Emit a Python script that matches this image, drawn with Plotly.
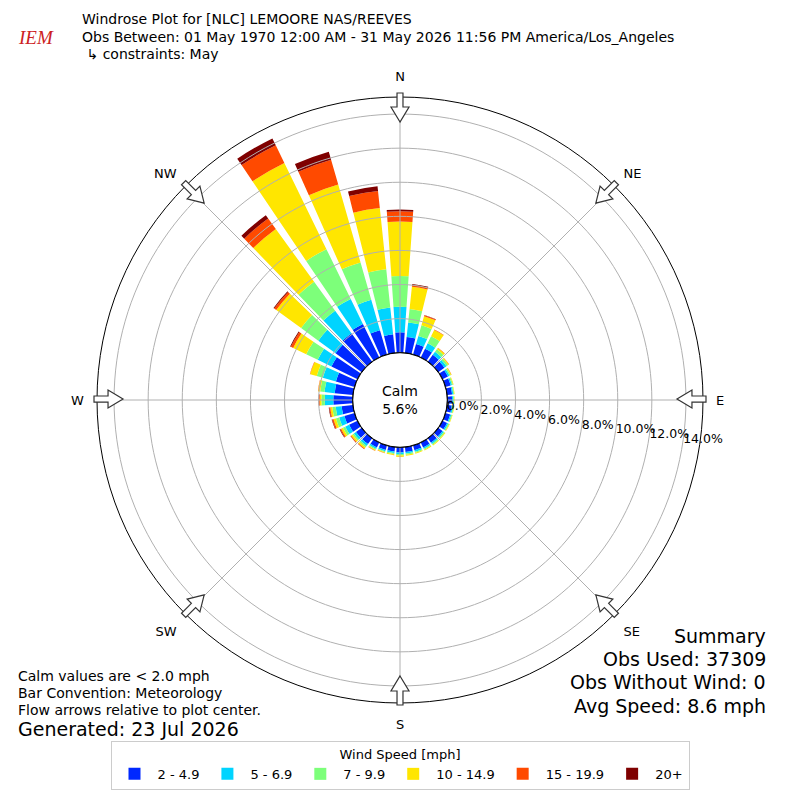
import math
import plotly.graph_objects as go

# wind direction bins (degrees, meteorological convention)
directions = list(range(0, 360, 10))

speed_bins = ["2 - 4.9", "5 - 6.9", "7 - 9.9", "10 - 14.9", "15 - 19.9", "20+"]
bin_colors = ["#0028ff", "#00d4ff", "#7dff7a", "#ffe600", "#ff4a00", "#7f0000"]

# percent frequency per direction for each speed bin
spd_2_5 = [1.20, 0.95, 0.64, 0.58, 0.50, 0.45, 0.36, 0.32, 0.30, 0.28, 0.28, 0.29,
           0.30, 0.31, 0.32, 0.32, 0.30, 0.30, 0.30, 0.27, 0.28, 0.32, 0.42, 0.42,
           0.55, 0.62, 0.67, 1.14, 1.08, 1.14, 1.70, 1.90, 2.07, 2.19, 1.49, 1.10]
spd_5_7 = [1.50, 0.85, 0.50, 0.35, 0.22, 0.15, 0.10, 0.08, 0.07, 0.07, 0.07, 0.07,
           0.08, 0.09, 0.09, 0.09, 0.09, 0.09, 0.10, 0.08, 0.08, 0.10, 0.14, 0.15,
           0.25, 0.32, 0.35, 0.50, 0.60, 0.80, 0.90, 1.25, 1.63, 1.63, 1.86, 1.58]
spd_7_10 = [1.80, 0.80, 0.65, 0.45, 0.18, 0.12, 0.08, 0.06, 0.05, 0.05, 0.05, 0.05,
            0.06, 0.07, 0.07, 0.06, 0.06, 0.07, 0.08, 0.06, 0.05, 0.06, 0.10, 0.10,
            0.15, 0.20, 0.20, 0.20, 0.25, 0.37, 0.75, 1.25, 2.10, 3.25, 2.27, 2.26]
spd_10_15 = [3.20, 1.30, 0.55, 0.42, 0.10, 0.06, 0.05, 0.04, 0.03, 0.03, 0.03, 0.03,
             0.04, 0.05, 0.05, 0.05, 0.05, 0.06, 0.08, 0.06, 0.05, 0.06, 0.09, 0.10,
             0.12, 0.15, 0.12, 0.10, 0.12, 0.40, 0.85, 1.80, 3.82, 5.63, 4.75, 3.61]
spd_15_20 = [0.60, 0.12, 0.06, 0.03, 0.02, 0.01, 0.01, 0.00, 0.00, 0.00, 0.00, 0.00,
             0.00, 0.00, 0.00, 0.00, 0.00, 0.00, 0.01, 0.01, 0.01, 0.02, 0.04, 0.05,
             0.07, 0.08, 0.06, 0.04, 0.02, 0.02, 0.15, 0.15, 0.76, 1.15, 1.52, 1.01]
spd_20 = [0.10, 0.05, 0.02, 0.00, 0.00, 0.00, 0.00, 0.00, 0.00, 0.00, 0.00, 0.00,
          0.00, 0.00, 0.00, 0.00, 0.00, 0.00, 0.00, 0.00, 0.00, 0.00, 0.01, 0.01,
          0.03, 0.03, 0.03, 0.02, 0.00, 0.00, 0.05, 0.05, 0.24, 0.45, 0.49, 0.27]

compass_angles = [0, 45, 90, 135, 180, 225, 270, 315]
compass_labels = ["N", "NE", "E", "SE", "S", "SW", "W", "NW"]
radial_ticks = [0, 2, 4, 6, 8, 10, 12, 14]

calm_pct = 5.6
obs_used = 37309
obs_no_wind = 0
avg_speed = 8.6

FONT = "DejaVu Sans"
W = 784          # the page body adds an 8px margin
RMAX = 15
LABEL_BEARING = 98
GRID = "#b0b0b0"


def px(x):
    return (x - 8) / W


def py(y):
    return 1 - (y - 8) / W


fig = go.Figure()

series = [spd_2_5, spd_5_7, spd_7_10, spd_10_15, spd_15_20, spd_20]
for name, vals, col in zip(speed_bins, series, bin_colors):
    fig.add_trace(go.Barpolar(
        r=vals, theta=directions, width=[8] * len(directions), name=name,
        marker=dict(color=col, line=dict(width=0)),
    ))

# grid drawn on top of the bars, like the original
circle = list(range(0, 361, 2))
for rv in radial_ticks[1:]:
    fig.add_trace(go.Scatterpolar(
        r=[rv] * len(circle), theta=circle, mode="lines",
        line=dict(color=GRID, width=1), showlegend=False, hoverinfo="skip"))
for a in compass_angles:
    fig.add_trace(go.Scatterpolar(
        r=[0, RMAX], theta=[a, a], mode="lines",
        line=dict(color=GRID, width=1), showlegend=False, hoverinfo="skip"))

# black edge of the calm circle
fig.add_trace(go.Scatterpolar(
    r=[0] * len(circle), theta=circle, mode="lines",
    line=dict(color="black", width=1.2), showlegend=False, hoverinfo="skip"))

# radial tick labels
fig.add_trace(go.Scatterpolar(
    r=radial_ticks, theta=[LABEL_BEARING] * len(radial_ticks), mode="text",
    text=["%.1f%%" % v for v in radial_ticks], textposition="middle right",
    textfont=dict(size=12.5, family=FONT, color="black"),
    showlegend=False, hoverinfo="skip", cliponaxis=False))

# block arrows on the rim pointing toward the centre
cx, cy = 400, 399
arrow = [(277, 0), (292, -9), (292, -3), (306, -3), (306, 3), (292, 3), (292, 9)]
shapes = []
for a in compass_angles:
    t = math.radians(a)
    ux, uy = math.sin(t), -math.cos(t)
    vx, vy = math.cos(t), math.sin(t)
    pts = []
    for rr, ll in arrow:
        sx = cx + rr * ux + ll * vx
        sy = cy + rr * uy + ll * vy
        pts.append("%.4f,%.4f" % (px(sx), py(sy)))
    shapes.append(dict(type="path", xref="paper", yref="paper",
                       path="M" + " L".join(pts) + " Z",
                       fillcolor="white", line=dict(color="#333333", width=1.2)))

fig.update_layout(
    width=W, height=W,
    margin=dict(l=0, r=0, t=0, b=0),
    paper_bgcolor="white",
    font=dict(family=FONT, size=13, color="black"),
    shapes=shapes,
    polar=dict(
        domain=dict(x=[px(97), px(703)], y=[py(703), py(97)]),
        bgcolor="white",
        hole=0.156,
        barmode="stack",
        radialaxis=dict(
            range=[0, RMAX], tickvals=radial_ticks, showticklabels=False,
            showline=False, showgrid=False, ticks="",
        ),
        angularaxis=dict(
            rotation=90, direction="clockwise",
            tickvals=compass_angles, ticktext=compass_labels,
            showline=True, linecolor="black", linewidth=1, showgrid=False,
            ticks="outside", ticklen=10, tickcolor="rgba(0,0,0,0)",
            tickfont=dict(size=13, family=FONT),
        ),
    ),
    legend=dict(
        orientation="h", x=0.5, xanchor="center", y=py(790), yanchor="bottom",
        title=dict(text="Wind Speed [mph]", side="top center", font=dict(size=13)),
        bordercolor="#cccccc", borderwidth=1, bgcolor="white",
        font=dict(size=13), itemwidth=36,
    ),
)

annos = [
    dict(x=400, y=400, text="Calm<br>%.1f%%" % calm_pct, size=14, anchor="center"),
    dict(x=16, y=38, text="<i>IEM</i>", size=19, anchor="left",
         color="#cc2222", family="Liberation Serif"),
    dict(x=80, y=19, text="Windrose Plot for [NLC] LEMOORE NAS/REEVES",
         size=14, anchor="left"),
    dict(x=80, y=37,
         text="Obs Between: 01 May 1970 12:00 AM - 31 May 2026 11:56 PM America/Los_Angeles",
         size=14, anchor="left"),
    dict(x=80, y=54, text=" \u21b3 constraints: May", size=14, anchor="left"),
    dict(x=16, y=676, text="Calm values are < 2.0 mph", size=14, anchor="left"),
    dict(x=16, y=693, text="Bar Convention: Meteorology", size=14, anchor="left"),
    dict(x=16, y=710, text="Flow arrows relative to plot center.", size=14, anchor="left"),
    dict(x=16, y=729, text="Generated: 23 Jul 2026", size=19, anchor="left"),
    dict(x=768, y=636, text="Summary", size=19, anchor="right"),
    dict(x=768, y=659, text="Obs Used: %d" % obs_used, size=19, anchor="right"),
    dict(x=768, y=682, text="Obs Without Wind: %d" % obs_no_wind, size=19, anchor="right"),
    dict(x=768, y=706, text="Avg Speed: %.1f mph" % avg_speed, size=19, anchor="right"),
]
for a in annos:
    fig.add_annotation(
        xref="paper", yref="paper", x=px(a["x"]), y=py(a["y"]),
        xanchor=a["anchor"], yanchor="middle", showarrow=False, text=a["text"],
        font=dict(size=a["size"], color=a.get("color", "black"),
                  family=a.get("family", FONT)))

fig.write_html("out.html")
